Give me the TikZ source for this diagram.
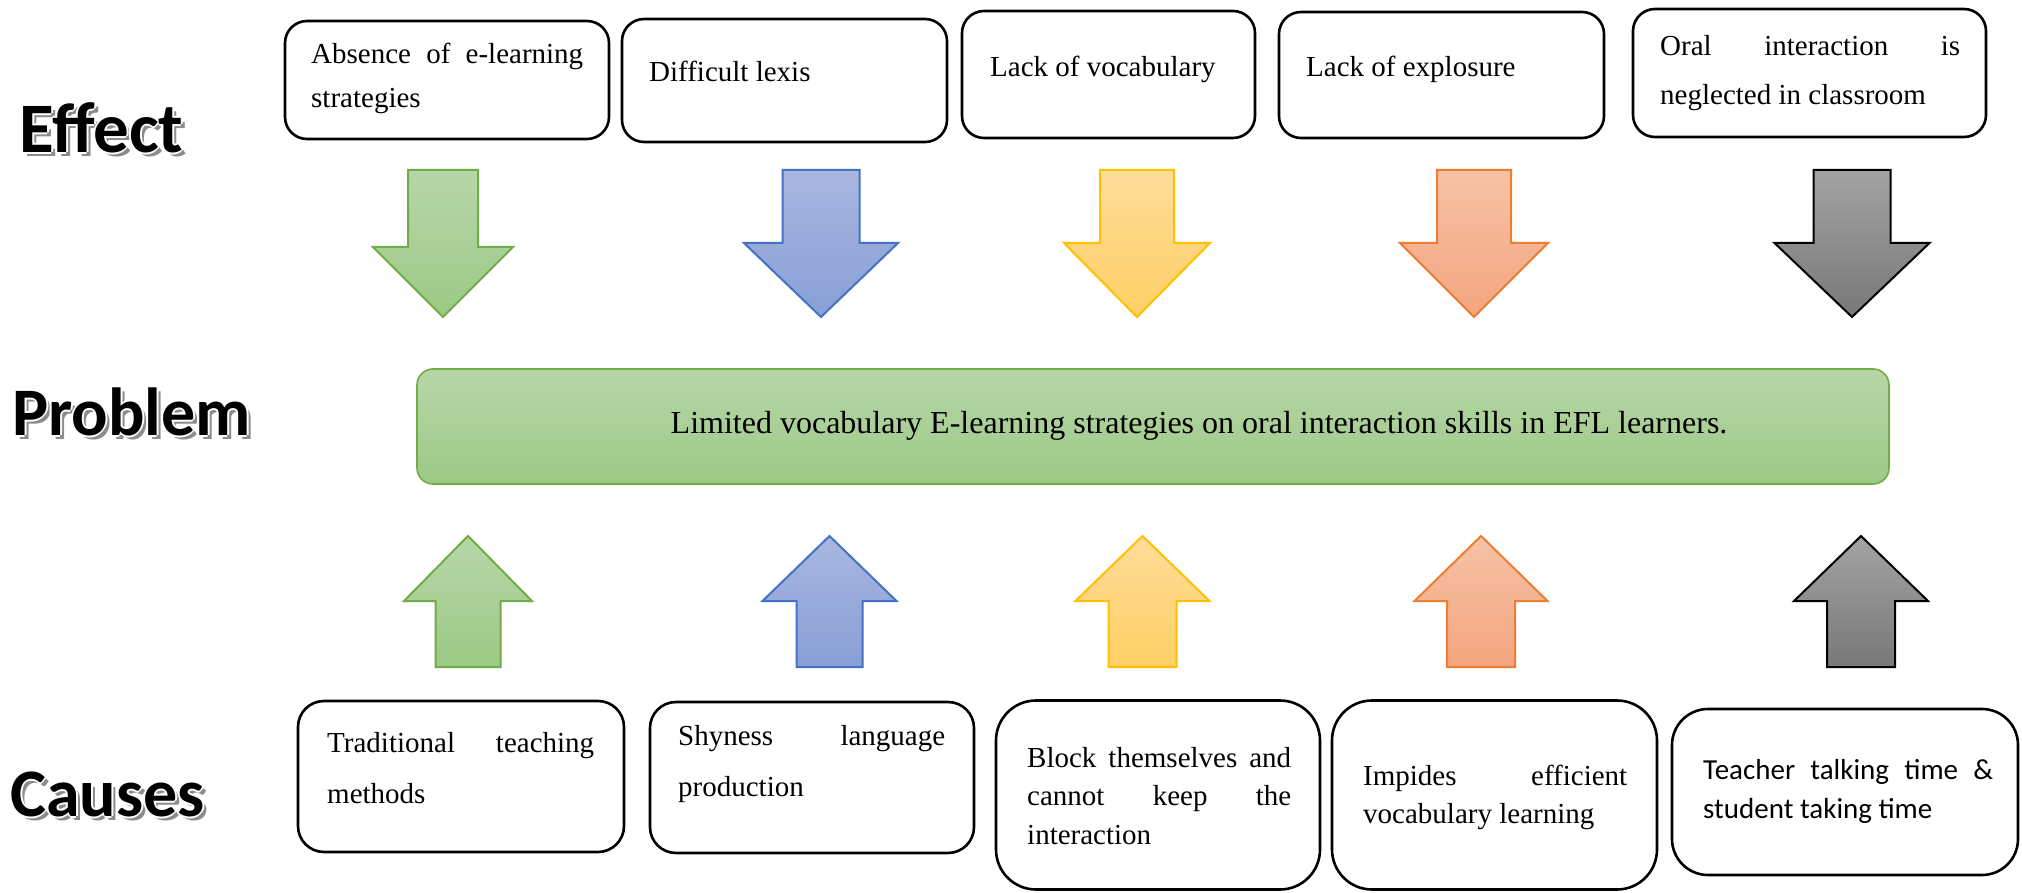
\documentclass[tikz,border=0pt]{standalone}
\usepackage{fontspec}
\setmainfont{Liberation Serif}
\newfontfamily\calib{Carlito}
\definecolor{gtop}{RGB}{183,214,168}
\definecolor{gbot}{RGB}{156,201,134}
\definecolor{gline}{RGB}{112,173,71}
\definecolor{btop}{RGB}{169,182,224}
\definecolor{bbot}{RGB}{136,159,214}
\definecolor{bline}{RGB}{68,114,196}
\definecolor{ytop}{RGB}{255,221,153}
\definecolor{ybot}{RGB}{255,208,102}
\definecolor{yline}{RGB}{255,192,0}
\definecolor{otop}{RGB}{246,194,166}
\definecolor{obot}{RGB}{244,165,127}
\definecolor{oline}{RGB}{237,125,49}
\definecolor{ktop}{RGB}{163,163,163}
\definecolor{kbot}{RGB}{120,120,120}
\newcommand\jline[2]{\makebox[#1][s]{#2}}
\newcommand\tlines[2]{\vtop{\baselineskip=#1\relax #2}}
\newcommand\darr[5]{% cx, shaft half, head half, head y, style
  \path[#5] (#1-#2,170) -- (#1+#2,170) -- (#1+#2,#4) -- (#1+#3,#4) -- (#1,317)
    -- (#1-#3,#4) -- (#1-#2,#4) -- cycle;}
\newcommand\uarr[4]{% cx, shaft half, head half, style
  \path[#4] (#1,536) -- (#1+#3,601) -- (#1+#2,601) -- (#1+#2,667) -- (#1-#2,667)
    -- (#1-#2,601) -- (#1-#3,601) -- cycle;}
\tikzset{
  box/.style={draw=black, line width=2.6pt, fill=white, inner sep=0pt, rounded corners=#1},
  box/.default=22pt,
  txt/.style={inner sep=0pt, anchor=base west, font=\fontsize{29}{39}\selectfont},
  ctxt/.style={inner sep=0pt, anchor=base west, font=\calib\fontsize{29}{39}\selectfont},
  lblfont/.style={inner sep=0pt, anchor=base west, font=\calib\bfseries\fontsize{68}{70}\selectfont},
  shadowlbl/.style={lblfont, text=black!45},
  whitelbl/.style={lblfont, text=white},
  greenA/.style={top color=gtop, bottom color=gbot, draw=gline, line width=2pt},
  blueA/.style={top color=btop, bottom color=bbot, draw=bline, line width=2pt},
  yellowA/.style={top color=ytop, bottom color=ybot, draw=yline, line width=2pt},
  orangeA/.style={top color=otop, bottom color=obot, draw=oline, line width=2pt},
  grayA/.style={top color=ktop, bottom color=kbot, draw=black, line width=2pt},
}
\newcommand\fancylabel[5]{% name, x, y, text, size
  \node[shadowlbl, font=\calib\bfseries\fontsize{#5}{#5}\selectfont] (#1s) at (#2+4,#3+4) {#4};
  \node[whitelbl, font=\calib\bfseries\fontsize{#5}{#5}\selectfont] (#1w1) at (#2+2,#3) {#4};
  \node[whitelbl, font=\calib\bfseries\fontsize{#5}{#5}\selectfont] (#1w2) at (#2-2,#3) {#4};
  \node[whitelbl, font=\calib\bfseries\fontsize{#5}{#5}\selectfont] (#1w3) at (#2,#3+2) {#4};
  \node[whitelbl, font=\calib\bfseries\fontsize{#5}{#5}\selectfont] (#1w4) at (#2,#3-2) {#4};
  \node[lblfont, font=\calib\bfseries\fontsize{#5}{#5}\selectfont] (#1) at (#2,#3) {#4};}
\begin{document}
\begin{tikzpicture}[x=1pt,y=-1pt]
\useasboundingbox (0,0) rectangle (2022,893);
\fill[white] (0,0) rectangle (2022,893);

% row labels
\fancylabel{effect}{19}{153}{Effect}{71}
\fancylabel{problem}{12}{435}{Problem}{68}
\fancylabel{causes}{10}{816}{Causes}{68}

% effect boxes
\node[box, minimum width=324pt, minimum height=118pt] (e1) at (447,80) {};
\node[box, minimum width=325pt, minimum height=123pt] (e2) at (784.5,80.5) {};
\node[box, minimum width=293pt, minimum height=127pt] (e3) at (1108.5,74.5) {};
\node[box, minimum width=325pt, minimum height=126pt] (e4) at (1441.5,75) {};
\node[box, minimum width=353pt, minimum height=128pt] (e5) at (1809.5,73) {};

\node[txt] (te1) at (311,64) {\tlines{44pt}{\hbox{\jline{272pt}{Absence of e-learning}}\hbox{strategies}}};
\node[txt] (te2) at (649,82) {Difficult lexis};
\node[txt] (te3) at (990,77) {Lack of vocabulary};
\node[txt] (te4) at (1306,77) {Lack of explosure};
\node[txt] (te5) at (1660,56) {\tlines{49pt}{\hbox{\jline{300pt}{Oral interaction is}}\hbox{neglected in classroom}}};

% down arrows
\darr{443}{35}{70}{247}{greenA}
\darr{821}{38.5}{77}{243}{blueA}
\darr{1137}{37}{73}{243}{yellowA}
\darr{1474}{37}{74}{243}{orangeA}
\darr{1852}{38.5}{77.5}{243}{grayA}

% problem
\node[inner sep=0pt, minimum width=1472pt, minimum height=115pt, rounded corners=16pt,
      top color=gtop, bottom color=gbot, draw=gline, line width=1.6pt] (prob) at (1153,426.5) {};
\node[inner sep=0pt, anchor=base, font=\fontsize{32}{39}\selectfont] (tprob) at (1199,433)
  {Limited vocabulary E-learning strategies on oral interaction skills in EFL learners.};

% up arrows
\uarr{468}{32.5}{64}{greenA}
\uarr{829.5}{33}{67}{blueA}
\uarr{1142.5}{34}{67}{yellowA}
\uarr{1481}{34}{66.5}{orangeA}
\uarr{1861}{34}{67}{grayA}

% cause boxes
\node[box=26pt, minimum width=326pt, minimum height=151pt] (c1) at (461,776.5) {};
\node[box=26pt, minimum width=324pt, minimum height=151pt] (c2) at (812,777.5) {};
\node[box=40pt, minimum width=324pt, minimum height=189pt] (c3) at (1158,795) {};
\node[box=40pt, minimum width=325pt, minimum height=189pt] (c4) at (1494.5,795) {};
\node[box=36pt, minimum width=346pt, minimum height=166pt] (c5) at (1845,792) {};

\node[txt] (tc1) at (327,752) {\tlines{51pt}{\hbox{\jline{267pt}{Traditional teaching}}\hbox{methods}}};
\node[txt] (tc2) at (678,745) {\tlines{51pt}{\hbox{\jline{267pt}{Shyness language}}\hbox{production}}};
\node[txt] (tc3) at (1027,767) {\tlines{38.5pt}{\hbox{\jline{264pt}{Block themselves and}}\hbox{\jline{264pt}{cannot keep the}}\hbox{interaction}}};
\node[txt] (tc4) at (1363,785) {\tlines{38pt}{\hbox{\jline{264pt}{Impides efficient}}\hbox{vocabulary learning}}};
\node[ctxt] (tc5) at (1703,779) {\tlines{39pt}{\hbox{\jline{290pt}{Teacher talking time \&}}\hbox{student taking time}}};
\end{tikzpicture}
\end{document}
